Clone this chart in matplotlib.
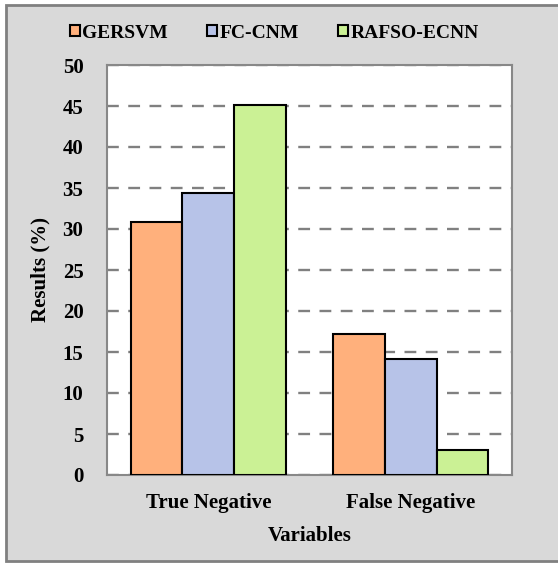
import numpy as np
import matplotlib
matplotlib.use('Agg')
import matplotlib.pyplot as plt
from matplotlib.patches import Rectangle

categories = ['True Negative', 'False Negative']
series = ['GERSVM', 'FC-CNM', 'RAFSO-ECNN']
gersvm = [30.9, 17.2]
fccnm = [34.4, 14.1]
rafso = [45.1, 3.0]
colors = ['#FFB07C', '#B7C3E8', '#CBF195']

plt.rcParams['font.family'] = ['Liberation Serif', 'DejaVu Serif']
plt.rcParams['font.weight'] = 'bold'

fig = plt.figure(figsize=(5.58, 5.63), dpi=100)
fig.patches.append(Rectangle((6 / 558, 2 / 563), 1.2, 556 / 563, transform=fig.transFigure,
                             facecolor='#D9D9D9', edgecolor='#808080', linewidth=2, zorder=-10))
ax = fig.add_axes([107 / 558, 88 / 563, 405 / 558, 410 / 563])

x = np.arange(len(categories))
w = 0.2545
for i, (vals, name) in enumerate(zip([gersvm, fccnm, rafso], series)):
    ax.bar(x + (i - 1) * w, vals, w, color=colors[i], edgecolor='black', linewidth=1.5,
           label=name, zorder=3)

ax.set_xlim(-0.5, 1.5)
ax.set_ylim(0, 50)
ax.set_yticks(range(0, 51, 5))
ax.set_xticks(x)
ax.set_xticklabels(categories, fontsize=15, fontweight='bold')
ax.tick_params(axis='y', length=0, pad=17, labelsize=15)
ax.tick_params(axis='x', length=0, pad=13)
for lab in ax.get_yticklabels():
    lab.set_fontweight('bold')
ax.yaxis.grid(True, linestyle=(0, (5, 4)), color='#808080', linewidth=1.7, zorder=0)
for s in ax.spines.values():
    s.set_color('#888888')
    s.set_linewidth(1.5)
ax.set_xlabel('Variables', fontsize=15, fontweight='bold', labelpad=9)
ax.set_ylabel('Results (%)', fontsize=15, fontweight='bold', labelpad=9)

fig.legend(loc='center left', bbox_to_anchor=(52 / 558, 1 - 33 / 563), ncol=3, frameon=False,
           prop={'weight': 'bold', 'size': 14}, handlelength=0.55, handleheight=0.55,
           handletextpad=0.1, columnspacing=2.0)

fig.savefig('out.png', dpi=100)
